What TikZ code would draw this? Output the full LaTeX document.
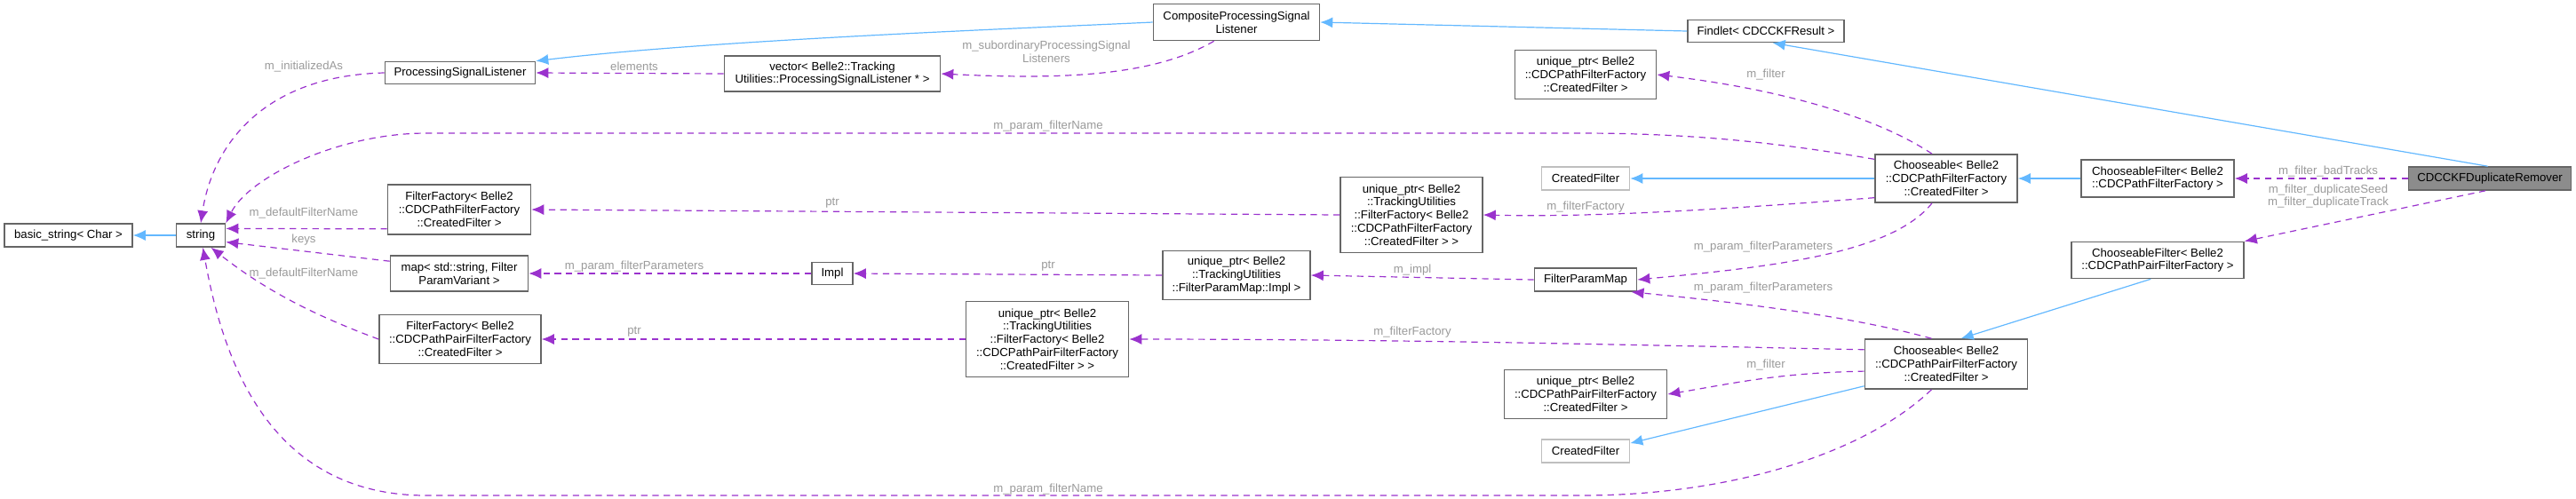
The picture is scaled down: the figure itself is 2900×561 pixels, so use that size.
\documentclass[tikz,border=0pt]{standalone}
\usepackage{fontspec}
\setmainfont{Liberation Sans}
\usetikzlibrary{arrows.meta, positioning}
\definecolor{inhblue}{HTML}{63B8FF}
\definecolor{usepurple}{HTML}{9A32CD}
\definecolor{lblgrey}{HTML}{9A9A9A}
\tikzset{
    classnode/.style = {draw=black!60, rectangle, fill=white, inner sep=0pt, align=center,
      font=\fontsize{3.3}{3.7}\selectfont},
    sz/.style 2 args = {minimum width=#1*0.25pt, minimum height=#2*0.25pt},
    greynode/.style = {classnode, draw=black!25},
    inh/.style = {draw=inhblue, line width=0.3pt, -{Latex[length=3.5pt,width=3pt]}},
    use/.style = {draw=usepurple, line width=0.3pt, dash pattern=on 1.8pt off 1.4pt,
      -{Latex[length=3.5pt,width=3pt]}},
    lbl/.style = {text=lblgrey, inner sep=0pt, align=center, font=\fontsize{3.3}{3.7}\selectfont}
}
\begin{document}
\begin{tikzpicture}[x=0.25pt, y=-0.25pt]
    \useasboundingbox (0,0) rectangle (2900,561);
    % classes
    \node [name=bstr, classnode, sz={144}{26}] at (77,265) {basic\_string< Char >};
    \node [name=str, classnode, sz={55}{26}] at (226,265) {string};
    \node [name=psl, classnode, sz={169}{25}] at (518,82) {ProcessingSignalListener};
    \node [name=ff1, classnode, sz={161}{56}] at (517,236) {FilterFactory< Belle2\\::CDCPathFilterFactory\\::CreatedFilter >};
    \node [name=map, classnode, sz={155}{40}] at (517,308) {map< std::string, Filter\\ParamVariant >};
    \node [name=ff2, classnode, sz={182}{55}] at (518,382) {FilterFactory< Belle2\\::CDCPathPairFilterFactory\\::CreatedFilter >};
    \node [name=vec, classnode, sz={243}{40}] at (937,83) {vector< Belle2::Tracking\\Utilities::ProcessingSignalListener * >};
    \node [name=impl, classnode, sz={46}{25}] at (937,308) {Impl};
    \node [name=cpsl, classnode, sz={187}{41}] at (1392,25) {CompositeProcessingSignal\\Listener};
    \node [name=upI, classnode, sz={166}{55}] at (1392,310) {unique\_ptr< Belle2\\::TrackingUtilities\\::FilterParamMap::Impl >};
    \node [name=uf2, classnode, sz={183}{85}] at (1179,382) {unique\_ptr< Belle2\\::TrackingUtilities\\::FilterFactory< Belle2\\::CDCPathPairFilterFactory\\::CreatedFilter > >};
    \node [name=uf1, classnode, sz={160}{85}] at (1589,242) {unique\_ptr< Belle2\\::TrackingUtilities\\::FilterFactory< Belle2\\::CDCPathFilterFactory\\::CreatedFilter > >};
    \node [name=up1, classnode, sz={159}{55}] at (1785,84) {unique\_ptr< Belle2\\::CDCPathFilterFactory\\::CreatedFilter >};
    \node [name=cfT, greynode, sz={99}{26}] at (1785,201) {CreatedFilter};
    \node [name=fpm, classnode, sz={115}{26}] at (1785,315) {FilterParamMap};
    \node [name=up2, classnode, sz={183}{55}] at (1785,444) {unique\_ptr< Belle2\\::CDCPathPairFilterFactory\\::CreatedFilter >};
    \node [name=cfB, greynode, sz={99}{26}] at (1785,508) {CreatedFilter};
    \node [name=findlet, classnode, sz={176}{25}] at (1988,35) {Findlet< CDCCKFResult >};
    \node [name=chP, classnode, sz={160}{54}] at (2191,201) {Chooseable< Belle2\\::CDCPathFilterFactory\\::CreatedFilter >};
    \node [name=chPP, classnode, sz={183}{56}] at (2191,410) {Chooseable< Belle2\\::CDCPathPairFilterFactory\\::CreatedFilter >};
    \node [name=cfP, classnode, sz={172}{42}] at (2429,201) {ChooseableFilter< Belle2\\::CDCPathFilterFactory >};
    \node [name=cfPP, classnode, sz={194}{41}] at (2429,293) {ChooseableFilter< Belle2\\::CDCPathPairFilterFactory >};
    \node [name=main, classnode, fill=black!45, sz={183}{26}] at (2803,201) {CDCCKFDuplicateRemover};

    % inheritance
    \draw [inh] (findlet.west) -- (cpsl.east);
    \draw [inh] (cpsl.west) .. controls (1150,32) and (800,45) .. (psl.north east);
    \draw [inh] (main.100) -- (findlet.-60);
    \draw [inh] (cfP.west) -- (chP.east);
    \draw [inh] (chP.west) -- (cfT.east);
    \draw [inh] (cfPP.-110) -- (chPP.60);
    \draw [inh] (chPP.-165) -- (cfB.10);
    \draw [inh] (str.west) -- (bstr.east);

    % members
    \draw [use] (main.west) -- (cfP.east);
    \draw [use] (main.-110) -- (cfPP.north east);
    \draw [use] (chP.120) .. controls (2110,130) and (2000,100) .. (up1.east);
    \draw [use] (chP.165) .. controls (2000,160) and (1900,150) .. (1780,150) -- (480,150)
      .. controls (380,150) and (280,200) .. (str.north east);
    \draw [use] (chP.-165) .. controls (1950,235) and (1800,245) .. (uf1.east);
    \draw [use] (chP.-120) .. controls (2130,285) and (2000,300) .. (fpm.east);
    \draw [use] (chPP.120) .. controls (2080,355) and (1950,340) .. (fpm.-15);
    \draw [use] (chPP.170) .. controls (1900,390) and (1600,382) .. (uf2.east);
    \draw [use] (chPP.-175) .. controls (2000,420) and (1950,432) .. (up2.east);
    \draw [use] (chPP.-120) .. controls (2100,510) and (1950,558) .. (1780,558) -- (480,558)
      .. controls (300,558) and (250,400) .. (str.-80);
    \draw [use] (cpsl.-140) .. controls (1300,85) and (1200,90) .. (vec.east);
    \draw [use] (vec.west) -- (psl.east);
    \draw [use] (psl.west) .. controls (300,85) and (240,160) .. (str.north);
    \draw [use] (ff1.-165) -- (str.15);
    \draw [use] (map.170) -- (str.-15);
    \draw [use] (ff2.west) .. controls (340,350) and (290,320) .. (str.-50);
    \draw [use] (uf1.west) -- (ff1.east);
    \draw [use] (upI.west) -- (impl.east);
    \draw [use] (impl.west) -- (map.east);
    \draw [use] (fpm.west) -- (upI.east);
    \draw [use] (uf2.west) -- (ff2.east);

    % labels
    \node [name=l1, lbl] at (2621,193) {m\_filter\_badTracks};
    \node [name=l2, lbl] at (2621,221) {m\_filter\_duplicateSeed\\m\_filter\_duplicateTrack};
    \node [name=l3, lbl] at (1988,84) {m\_filter};
    \node [name=l4, lbl] at (1180,142) {m\_param\_filterName};
    \node [name=l5, lbl] at (1785,233) {m\_filterFactory};
    \node [name=l6, lbl] at (1985,278) {m\_param\_filterParameters};
    \node [name=l7, lbl] at (1985,324) {m\_param\_filterParameters};
    \node [name=l8, lbl] at (1590,374) {m\_filterFactory};
    \node [name=l9, lbl] at (1988,411) {m\_filter};
    \node [name=l10, lbl] at (1180,551) {m\_param\_filterName};
    \node [name=l11, lbl] at (1178,58) {m\_subordinaryProcessingSignal\\Listeners};
    \node [name=l12, lbl] at (714,75) {elements};
    \node [name=l13, lbl] at (342,75) {m\_initializedAs};
    \node [name=l14, lbl] at (342,240) {m\_defaultFilterName};
    \node [name=l15, lbl] at (342,270) {keys};
    \node [name=l16, lbl] at (342,308) {m\_defaultFilterName};
    \node [name=l17, lbl] at (937,229) {ptr};
    \node [name=l18, lbl] at (1180,300) {ptr};
    \node [name=l19, lbl] at (714,300) {m\_param\_filterParameters};
    \node [name=l20, lbl] at (1590,304) {m\_impl};
    \node [name=l21, lbl] at (714,374) {ptr};
\end{tikzpicture}
\end{document}
